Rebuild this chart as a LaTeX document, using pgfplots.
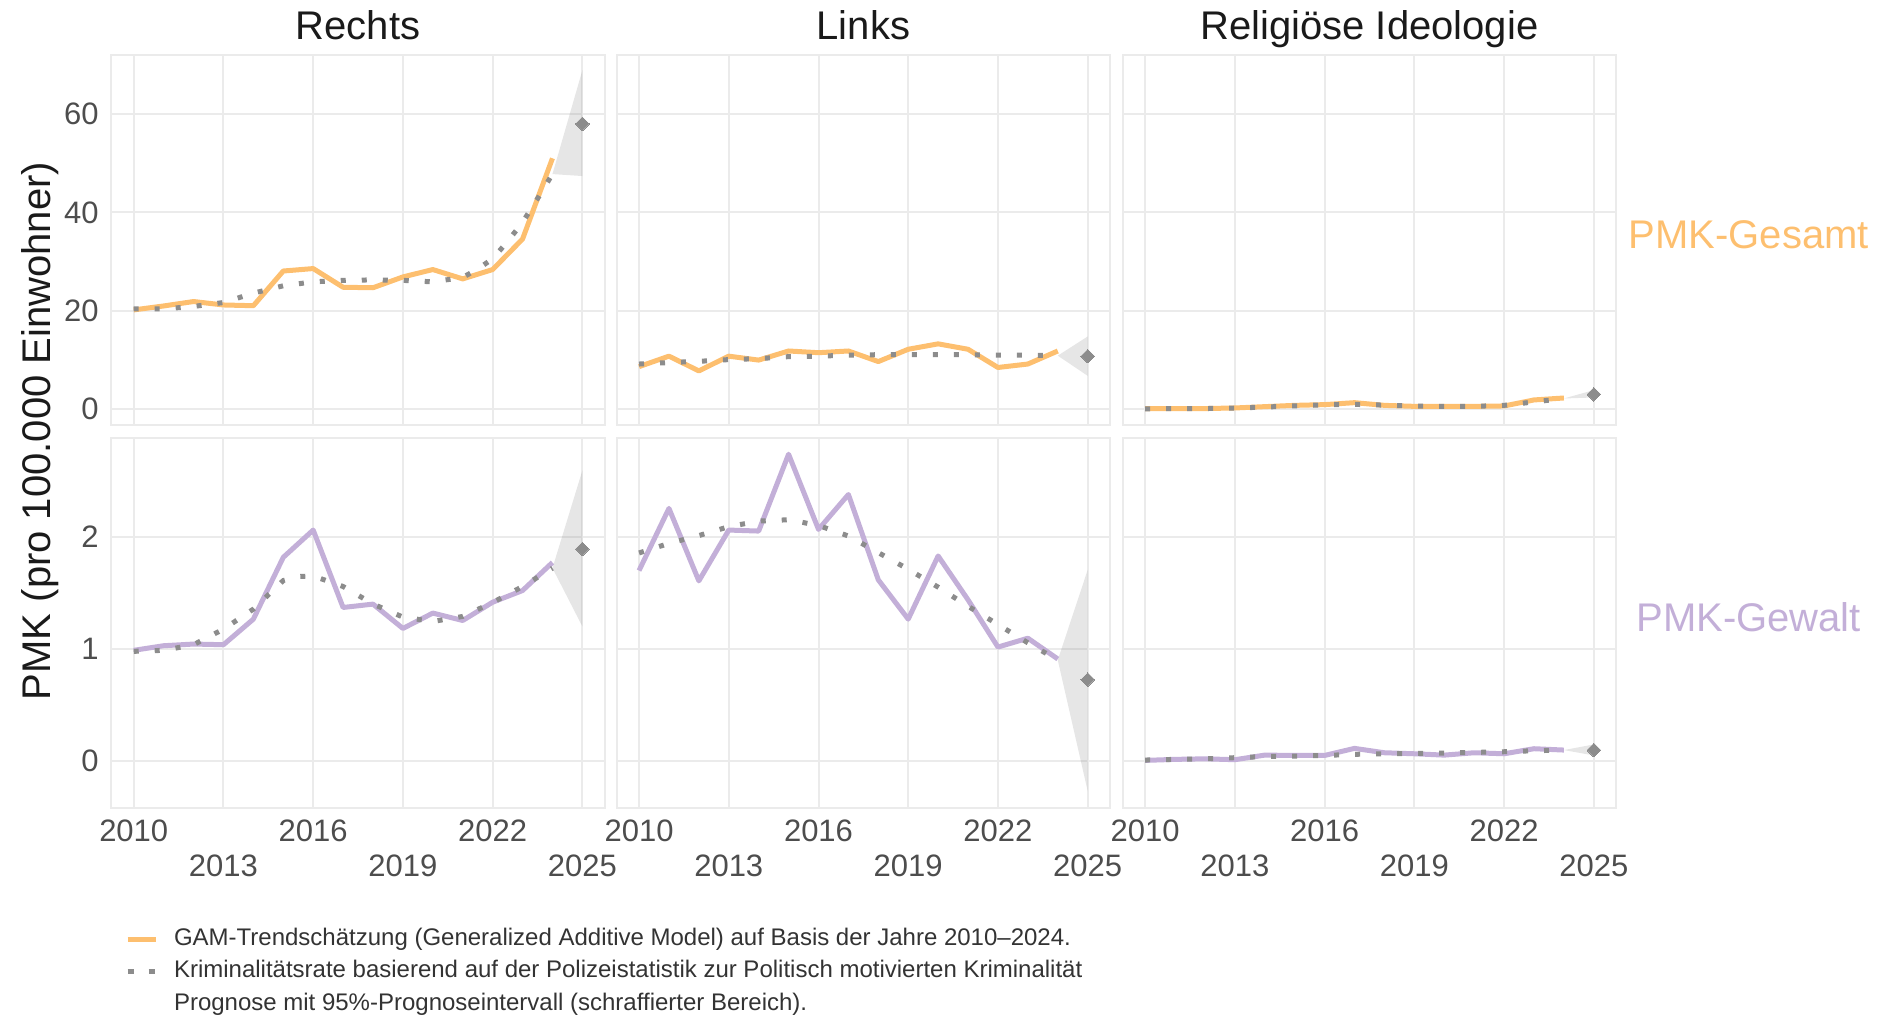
\documentclass[border=0pt]{standalone}
\usepackage{fontspec}
\setmainfont{Liberation Sans}
\usepackage{pgfplots}
\pgfplotsset{compat=1.18}
\definecolor{gridc}{RGB}{235,235,235}
\definecolor{orng}{HTML}{FDBF6F}
\definecolor{purp}{RGB}{195,175,216}
\definecolor{dotc}{RGB}{140,140,140}
\definecolor{tickc}{HTML}{4D4D4D}
\definecolor{titc}{HTML}{1A1A1A}
\definecolor{legc}{HTML}{333333}
\pgfplotsset{
  panel/.style={
    scale only axis, width=246.75pt, height=185pt, anchor=south west,
    xmin=2009.25, xmax=2025.75,
    axis line style={draw=gridc, line width=1pt},
    grid=major, major grid style={draw=gridc, line width=1pt},
    major tick length=0pt, tick style={draw=none},
    xtick={2010,2016,2022}, extra x ticks={2013,2019,2025},
    extra x tick style={grid=major, xticklabel style={yshift=-17.35pt}},
    xticklabel=\empty, yticklabel=\empty,
    xticklabel style={anchor=center, yshift=-11.9pt, inner sep=0pt},
    yticklabel style={anchor=east, inner sep=0pt, xshift=-6.15pt},
    ticklabel style={font=\fontsize{15.5pt}{18pt}\selectfont, text=tickc},
  },
  toprow/.style={ymin=-3.19, ymax=72, ytick={0,20,40,60}},
  botrow/.style={ymin=-0.414, ymax=2.884, ytick={0,1,2},
    xticklabels={2010,2016,2022}, extra x tick labels={2013,2019,2025}},
  rib/.style={fill=gray, fill opacity=0.2, draw=none, forget plot},
  solO/.style={color=orng, line width=2.5pt, line join=round, forget plot},
  solP/.style={color=purp, line width=2.5pt, line join=round, forget plot},
  dotl/.style={color=dotc, line width=2.5pt, dash pattern=on 2.5pt off 8pt, line cap=butt, forget plot},
  dia/.style={only marks, color=dotc, mark=square*, mark size=2.4pt, mark options={rotate=45, fill=dotc, draw=dotc, line width=0pt}, forget plot},
}
\begin{document}
\begin{tikzpicture}
\useasboundingbox (0,0) rectangle (944pt,509.5pt);
% ---------- Top row: PMK-Gesamt ----------
\begin{axis}[panel, toprow, at={(55.65pt,297pt)}, yticklabels={0,20,40,60}]
\addplot[rib] coordinates {(2024,47.8) (2025,68.9) (2025,47.4)} -- cycle;
\addplot[solO] coordinates {(2010,20.2)(2011,21.0)(2012,21.9)(2013,21.2)(2014,21.05)(2015,28.1)(2016,28.6)(2017,24.8)(2018,24.7)(2019,26.9)(2020,28.4)(2021,26.5)(2022,28.4)(2023,34.6)(2024,51.0)};
\addplot[dotl] coordinates {(2010,20.4)(2011,20.4)(2012,20.9)(2013,21.7)(2014,23.6)(2015,25.1)(2016,25.9)(2017,26.2)(2018,26.3)(2019,26.2)(2020,25.9)(2021,26.8)(2021.5,28.5)(2022,30.6)(2022.5,34.1)(2023,38.0)(2023.5,42.8)(2024,47.8)};
\addplot[dia] coordinates {(2025,58.0)};
\end{axis}
\begin{axis}[panel, toprow, at={(308.3pt,297pt)}]
\addplot[rib] coordinates {(2024,10.9) (2025,14.8) (2025,6.8)} -- cycle;
\addplot[solO] coordinates {(2010,8.67)(2011,10.8)(2012,7.8)(2013,10.8)(2014,10.0)(2015,11.85)(2016,11.5)(2017,11.85)(2018,9.7)(2019,12.2)(2020,13.3)(2021,12.2)(2022,8.5)(2023,9.2)(2024,11.85)};
\addplot[dotl] coordinates {(2010,9.2)(2011,9.5)(2012,9.75)(2013,10.1)(2014,10.3)(2015,10.7)(2016,10.8)(2017,11.0)(2018,11.1)(2019,11.1)(2020,11.1)(2021,11.1)(2022,11.0)(2023,11.0)(2024,10.9)};
\addplot[dia] coordinates {(2025,10.8)};
\end{axis}
\begin{axis}[panel, toprow, at={(561.35pt,297pt)}]
\addplot[rib] coordinates {(2024,2.2) (2025,3.9) (2025,2.4)} -- cycle;
\addplot[solO] coordinates {(2010,0.14)(2011,0.14)(2012,0.15)(2013,0.27)(2014,0.54)(2015,0.8)(2016,0.95)(2017,1.35)(2018,0.8)(2019,0.6)(2020,0.6)(2021,0.6)(2022,0.68)(2023,1.9)(2024,2.3)};
\addplot[dotl] coordinates {(2010,0.1)(2011,0.12)(2012,0.15)(2013,0.25)(2014,0.45)(2015,0.7)(2016,0.9)(2017,1.0)(2018,0.85)(2019,0.65)(2020,0.6)(2021,0.6)(2022,0.8)(2023,1.5)(2024,2.2)};
\addplot[dia] coordinates {(2025,3.05)};
\end{axis}
% ---------- Bottom row: PMK-Gewalt ----------
\begin{axis}[panel, botrow, at={(55.65pt,105.75pt)}, yticklabels={0,1,2},
  legend style={at={(0.0278,-0.3238)}, anchor=north west, draw=none, fill=none,
    inner sep=0pt, outer sep=0pt, row sep=4.25pt, column sep=7.85pt,
    nodes={inner sep=0pt, text height=9pt, text depth=3pt,
      font=\fontsize{12pt}{14pt}\selectfont, text=legc}},
  legend cell align=left,
  legend image code/.code={\draw[#1] (0pt,0pt) -- (14.15pt,0pt);}]
\addlegendimage{color=orng, line width=2.5pt}
\addlegendentry{GAM-Trendschätzung (Generalized Additive Model) auf Basis der Jahre 2010–2024.}
\addlegendimage{color=dotc, line width=2.5pt, dash pattern=on 3pt off 7.5pt, line cap=butt}
\addlegendentry{Kriminalitätsrate basierend auf der Polizeistatistik zur Politisch motivierten Kriminalität}
\addlegendimage{empty legend}
\addlegendentry{Prognose mit 95\%-Prognoseintervall (schraffierter Bereich).}
\addplot[rib] coordinates {(2024,1.72) (2025,2.59) (2025,1.2)} -- cycle;
\addplot[solP] coordinates {(2010,0.987)(2011,1.028)(2012,1.043)(2013,1.037)(2014,1.265)(2015,1.816)(2016,2.059)(2017,1.369)(2018,1.399)(2019,1.182)(2020,1.319)(2021,1.253)(2022,1.416)(2023,1.52)(2024,1.77)};
\addplot[dotl] coordinates {(2010,0.978)(2011,0.987)(2012,1.037)(2013,1.176)(2014,1.354)(2015,1.609)(2015.5,1.645)(2016,1.65)(2017,1.556)(2018,1.4)(2019,1.283)(2020,1.244)(2021,1.289)(2022,1.413)(2023,1.556)(2024,1.719)};
\addplot[dia] coordinates {(2025,1.89)};
\end{axis}
\begin{axis}[panel, botrow, at={(308.3pt,105.75pt)}]
\addplot[rib] coordinates {(2024,0.90) (2025,1.704) (2025,-0.267)} -- cycle;
\addplot[solP] coordinates {(2010,1.698)(2011,2.252)(2012,1.606)(2013,2.059)(2014,2.05)(2015,2.735)(2016,2.065)(2017,2.376)(2018,1.615)(2019,1.265)(2020,1.828)(2021,1.437)(2022,1.016)(2023,1.095)(2024,0.91)};
\addplot[dotl] coordinates {(2010,1.855)(2011,1.94)(2012,2.01)(2013,2.089)(2014,2.139)(2015,2.151)(2016,2.1)(2017,2.006)(2018,1.858)(2019,1.71)(2020,1.55)(2021,1.38)(2022,1.217)(2023,1.054)(2024,0.90)};
\addplot[dia] coordinates {(2025,0.726)};
\end{axis}
\begin{axis}[panel, botrow, at={(561.35pt,105.75pt)}]
\addplot[rib] coordinates {(2024,0.098) (2025,0.148) (2025,0.05)} -- cycle;
\addplot[solP] coordinates {(2010,0.006)(2011,0.015)(2012,0.02)(2013,0.012)(2014,0.053)(2015,0.05)(2016,0.05)(2017,0.113)(2018,0.074)(2019,0.065)(2020,0.053)(2021,0.074)(2022,0.065)(2023,0.11)(2024,0.098)};
\addplot[dotl] coordinates {(2010,0.009)(2011,0.015)(2012,0.02)(2013,0.03)(2014,0.04)(2015,0.044)(2016,0.05)(2017,0.06)(2018,0.065)(2019,0.068)(2020,0.071)(2021,0.077)(2022,0.083)(2023,0.092)(2024,0.098)};
\addplot[dia] coordinates {(2025,0.098)};
\end{axis}
% ---------- Titles and labels ----------
\begin{scope}[every node/.style={font=\fontsize{20pt}{24pt}\selectfont, inner sep=0pt}]
\node[anchor=base, text=titc] at (179pt,489.65pt) {Rechts};
\node[anchor=base, text=titc] at (431.7pt,489.65pt) {Links};
\node[anchor=base, text=titc] at (684.7pt,489.65pt) {Religiöse Ideologie};
\node[anchor=center, text=orng] at (874.35pt,392pt) {PMK-Gesamt};
\node[anchor=center, text=purp] at (874.35pt,200.75pt) {PMK-Gewalt};
\node[anchor=center, rotate=90, text=titc] at (20pt,294pt) {PMK (pro 100.000 Einwohner)};
\end{scope}
\end{tikzpicture}
\end{document}
